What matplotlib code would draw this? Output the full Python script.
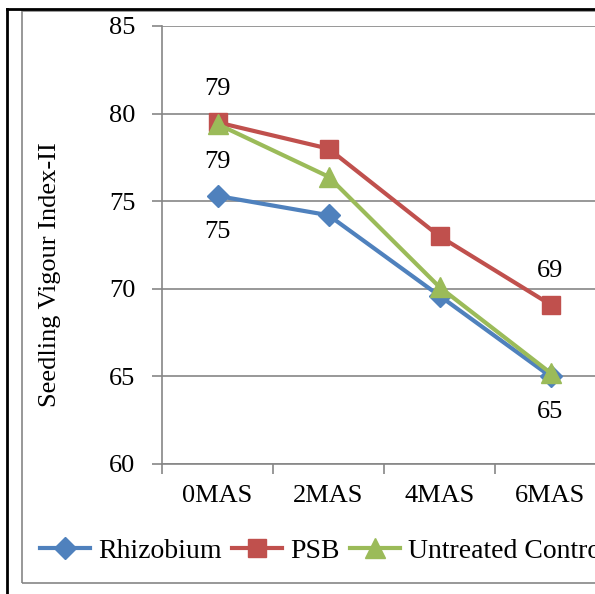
import matplotlib
matplotlib.use("Agg")
import matplotlib.pyplot as plt
from matplotlib.lines import Line2D
from matplotlib.patches import Rectangle

categories = ["0MAS", "2MAS", "4MAS", "6MAS"]
rhizobium = [75.3, 74.2, 69.6, 65.0]
psb = [79.5, 78.0, 73.0, 69.1]
untreated = [79.4, 76.4, 70.1, 65.2]

# data labels shown in the chart
rhizo_labels = {0: "75", 3: "65"}
psb_labels = {0: "79", 3: "69"}
untreated_labels = {0: "79"}

plt.rcParams['font.family'] = ['Liberation Serif', 'DejaVu Serif']
fs = 19
grey = '#868686'

fig = plt.figure(figsize=(5.95, 5.94), dpi=100)
W, H = 595, 594

# outer frames
fig.add_artist(Line2D([7 / W, 7 / W], [0, 1 - 9 / H], transform=fig.transFigure,
                      color='black', lw=2))
fig.add_artist(Line2D([7 / W, 1], [1 - 9 / H, 1 - 9 / H], transform=fig.transFigure,
                      color='black', lw=2))
fig.add_artist(Rectangle((22 / W, 1 - 583 / H), 1.2, (583 - 11) / H,
                         transform=fig.transFigure, fill=False,
                         edgecolor=grey, lw=1.2))

ax = fig.add_axes([162 / W, 1 - 464 / H, 444 / W, 438 / H])
x = range(len(categories))

ax.plot(x, rhizobium, color='#4F81BD', lw=3, marker='D', ms=11,
        label='Rhizobium', zorder=3)
ax.plot(x, psb, color='#C0504D', lw=3, marker='s', ms=13,
        label='PSB', zorder=3)
ax.plot(x, untreated, color='#9BBB59', lw=3, marker='^', ms=14,
        label='Untreated Control', zorder=4)

for i, t in psb_labels.items():
    ax.annotate(t, (i, psb[i]), xytext=(0, 16), textcoords='offset points',
                ha='center', va='bottom', fontsize=fs)
for i, t in untreated_labels.items():
    ax.annotate(t, (i, untreated[i]), xytext=(0, -19), textcoords='offset points',
                ha='center', va='top', fontsize=fs)
for i, t in rhizo_labels.items():
    ax.annotate(t, (i, rhizobium[i]), xytext=(0, -18), textcoords='offset points',
                ha='center', va='top', fontsize=fs)

ax.set_xlim(-0.5, 3.5)
ax.set_ylim(60, 85)
ax.set_yticks(range(60, 86, 5))
ax.set_xticks(x)
ax.set_xticklabels(categories, fontsize=fs)
ax.set_xticks([-0.5, 0.5, 1.5, 2.5, 3.5], minor=True)
ax.tick_params(axis='x', which='major', length=0, pad=15)
ax.tick_params(axis='x', which='minor', length=7, color=grey, width=1.2)
ax.tick_params(axis='y', length=7, color=grey, width=1.2, labelsize=fs, pad=12)
ax.grid(axis='y', color=grey, lw=1.2)
ax.set_axisbelow(True)
for s in ['top', 'right']:
    ax.spines[s].set_visible(False)
for s in ['left', 'bottom']:
    ax.spines[s].set_color(grey)
    ax.spines[s].set_linewidth(1.2)

ax.set_ylabel('Seedling Vigour Index-II', fontsize=fs)
ax.yaxis.set_label_coords(-0.228, 0.432)

ax.legend(loc='center left', bbox_to_anchor=(40 / W, 1 - 551 / H),
          bbox_transform=fig.transFigure, ncol=3, frameon=False,
          fontsize=20, handlelength=1.8, handletextpad=0.3, columnspacing=0.36,
          borderaxespad=0, borderpad=0)

fig.savefig('out.png', dpi=100)
